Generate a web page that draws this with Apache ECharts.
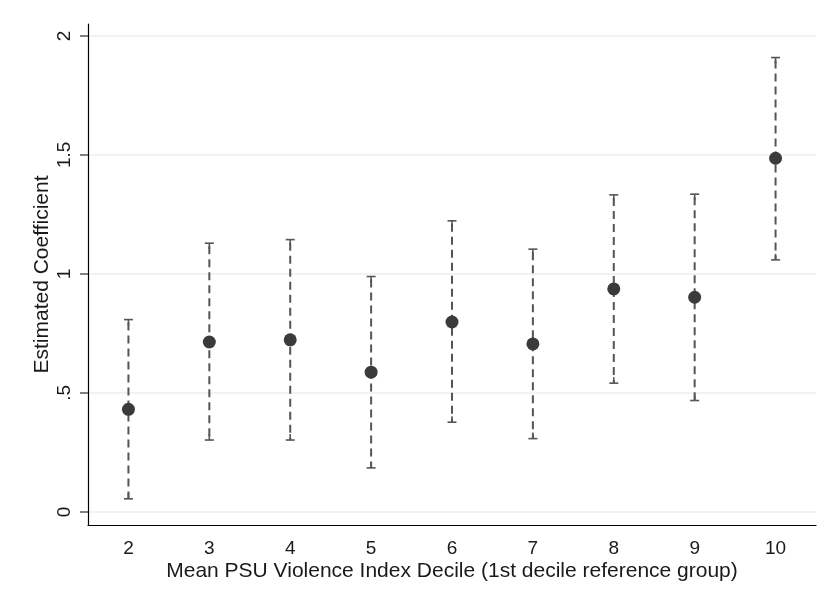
<!DOCTYPE html>
<html>
<head>
<meta charset="utf-8">
<script src="https://cdn.jsdelivr.net/npm/echarts@6/dist/echarts.min.js"></script>
<style>
  html, body { margin: 0; padding: 0; background: #ffffff; }
  #chart { width: 831px; height: 605px; }
</style>
</head>
<body>
<div id="chart"></div>
<script>
// Decile categories (1st decile is the reference group)
var deciles = ['2', '3', '4', '5', '6', '7', '8', '9', '10'];
// Point estimates and confidence bounds
var estimates = [0.431, 0.714, 0.723, 0.587, 0.798, 0.706, 0.937, 0.902, 1.486];
var lowerCI   = [0.055, 0.302, 0.302, 0.185, 0.377, 0.308, 0.541, 0.468, 1.059];
var upperCI   = [0.808, 1.129, 1.144, 0.989, 1.223, 1.104, 1.332, 1.335, 1.909];
// Y-axis ticks and their printed labels
var yTickValues = [0, 0.5, 1, 1.5, 2];
var yTickLabels = ['0', '.5', '1', '1.5', '2'];

var font = '"Liberation Sans", Arial, sans-serif';

var pointData = deciles.map(function (d, i) { return [i, estimates[i]]; });
var barData = deciles.map(function (d, i) { return [i, lowerCI[i], upperCI[i]]; });

function renderErrorBar(params, api) {
  var idx = api.value(0);
  var lo = api.coord([idx, api.value(1)]);
  var hi = api.coord([idx, api.value(2)]);
  var half = 4.5;
  var capStyle = { stroke: '#555555', lineWidth: 1.6 };
  return {
    type: 'group',
    children: [
      {
        type: 'line',
        shape: { x1: hi[0], y1: hi[1] + 3, x2: lo[0], y2: lo[1] },
        style: { stroke: '#555555', lineWidth: 2, lineDash: [8, 5] }
      },
      { type: 'line', shape: { x1: hi[0] - half, y1: hi[1], x2: hi[0] + half, y2: hi[1] }, style: capStyle },
      { type: 'line', shape: { x1: lo[0], y1: lo[1], x2: lo[0], y2: lo[1] - 6 }, style: capStyle },
      { type: 'line', shape: { x1: lo[0] - half, y1: lo[1], x2: lo[0] + half, y2: lo[1] }, style: capStyle },
      { type: 'line', shape: { x1: hi[0], y1: hi[1], x2: hi[0], y2: hi[1] + 6 }, style: capStyle }
    ]
  };
}

var chart = echarts.init(document.getElementById('chart'), null, { renderer: 'canvas' });
chart.setOption({
  backgroundColor: '#ffffff',
  animation: false,
  grid: { left: 88, right: 15, top: 24, bottom: 80 },
  xAxis: {
    type: 'category',
    data: deciles,
    boundaryGap: true,
    name: 'Mean PSU Violence Index Decile (1st decile reference group)',
    nameLocation: 'middle',
    nameGap: 36,
    nameMoveOverlap: false,
    nameTextStyle: { fontFamily: font, fontSize: 21, color: '#1a1a1a' },
    axisLine: { onZero: false, lineStyle: { color: '#000000', width: 1.2 } },
    axisTick: { alignWithLabel: true, length: 8, lineStyle: { color: '#555555', width: 1.5 } },
    axisLabel: { fontFamily: font, fontSize: 19, color: '#1a1a1a', margin: 14 },
    splitLine: { show: false }
  },
  yAxis: {
    type: 'value',
    min: -0.055,
    max: 2.05,
    name: 'Estimated Coefficient',
    nameLocation: 'middle',
    nameGap: 35,
    nameMoveOverlap: false,
    nameTextStyle: { fontFamily: font, fontSize: 21, color: '#1a1a1a' },
    axisLine: { show: true, lineStyle: { color: '#000000', width: 1.2 } },
    axisTick: { show: true, length: 8, customValues: yTickValues, lineStyle: { color: '#555555', width: 1.5 } },
    axisLabel: {
      customValues: yTickValues,
      rotate: 90,
      fontFamily: font, fontSize: 19, color: '#1a1a1a', margin: 14,
      formatter: function (v) {
        var k = yTickValues.indexOf(v);
        return k >= 0 ? yTickLabels[k] : '';
      }
    },
    splitLine: { show: true, lineStyle: { color: '#e8eff2', width: 1.5 } }
  },
  series: [
    {
      type: 'custom',
      renderItem: renderErrorBar,
      data: barData,
      encode: { x: 0, y: [1, 2] },
      z: 2,
      silent: true
    },
    {
      type: 'scatter',
      data: pointData,
      symbol: 'circle',
      symbolSize: 13,
      itemStyle: { color: '#3b3b3b', opacity: 1 },
      z: 3,
      silent: true
    }
  ]
});
</script>
</body>
</html>
